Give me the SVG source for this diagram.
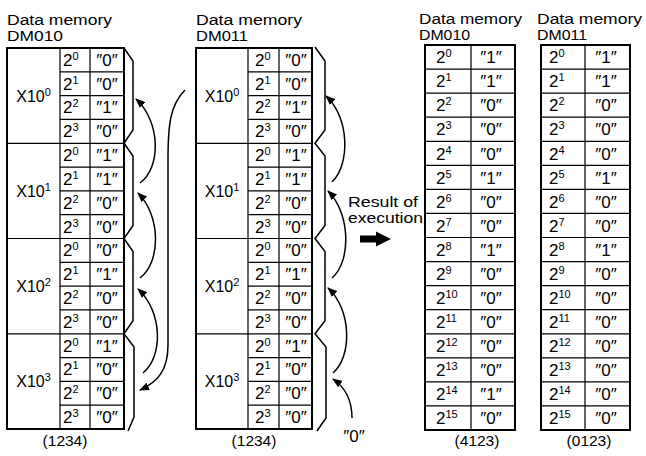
<svg xmlns="http://www.w3.org/2000/svg" width="646" height="456" viewBox="0 0 646 456">
<style>
text{font-family:"Liberation Sans",Arial,sans-serif;fill:#000}
.t{font-size:15.5px}
.x{font-size:16px;text-anchor:middle}
.b{font-size:17px}
.v{font-size:17px;text-anchor:middle}
.s{font-size:11px}
.lab{font-size:15.5px;text-anchor:middle}
.o{fill:none;stroke:#000;stroke-width:2}
.l{fill:none;stroke:#000;stroke-width:1.2}
.br{fill:none;stroke:#000;stroke-width:1.5;stroke-linejoin:miter}
.c{fill:none;stroke:#000;stroke-width:1.5}
</style>
<defs>
<marker id="ah" markerUnits="userSpaceOnUse" markerWidth="10" markerHeight="8" refX="9" refY="4" orient="auto">
<path d="M0,0 L10,4 L0,8 z" fill="#000"/>
</marker>
</defs>

<g id="dm010-before">
<text class="t" x="7" y="25" textLength="105" lengthAdjust="spacingAndGlyphs">Data memory</text>
<text class="t" x="7" y="40.5" textLength="56" lengthAdjust="spacingAndGlyphs">DM010</text>
<rect class="o" x="7" y="48" width="117" height="381"/>
<path class="l" d="M60,48V429M90,48V429M7,143.3H124M7,238.5H124M7,333.8H124M60,71.8H124M60,95.6H124M60,119.4H124M60,167.1H124M60,190.9H124M60,214.7H124M60,262.3H124M60,286.1H124M60,309.9H124M60,357.6H124M60,381.4H124M60,405.2H124"/>
<text class="x" x="33.5" y="101.5">X10<tspan class="s" dy="-6">0</tspan></text>
<text class="x" x="33.5" y="196.8">X10<tspan class="s" dy="-6">1</tspan></text>
<text class="x" x="33.5" y="292">X10<tspan class="s" dy="-6">2</tspan></text>
<text class="x" x="33.5" y="387.3">X10<tspan class="s" dy="-6">3</tspan></text>
<text class="b" x="63" y="65.8">2<tspan class="s" dy="-6">0</tspan></text>
<text class="b" x="63" y="89.6">2<tspan class="s" dy="-6">1</tspan></text>
<text class="b" x="63" y="113.4">2<tspan class="s" dy="-6">2</tspan></text>
<text class="b" x="63" y="137.2">2<tspan class="s" dy="-6">3</tspan></text>
<text class="b" x="63" y="161.1">2<tspan class="s" dy="-6">0</tspan></text>
<text class="b" x="63" y="184.9">2<tspan class="s" dy="-6">1</tspan></text>
<text class="b" x="63" y="208.7">2<tspan class="s" dy="-6">2</tspan></text>
<text class="b" x="63" y="232.5">2<tspan class="s" dy="-6">3</tspan></text>
<text class="b" x="63" y="256.3">2<tspan class="s" dy="-6">0</tspan></text>
<text class="b" x="63" y="280.1">2<tspan class="s" dy="-6">1</tspan></text>
<text class="b" x="63" y="303.9">2<tspan class="s" dy="-6">2</tspan></text>
<text class="b" x="63" y="327.7">2<tspan class="s" dy="-6">3</tspan></text>
<text class="b" x="63" y="351.6">2<tspan class="s" dy="-6">0</tspan></text>
<text class="b" x="63" y="375.4">2<tspan class="s" dy="-6">1</tspan></text>
<text class="b" x="63" y="399.2">2<tspan class="s" dy="-6">2</tspan></text>
<text class="b" x="63" y="423">2<tspan class="s" dy="-6">3</tspan></text>
<text class="v" x="107" y="65.8">″0″</text>
<text class="v" x="107" y="89.6">″0″</text>
<text class="v" x="107" y="113.4">″1″</text>
<text class="v" x="107" y="137.2">″0″</text>
<text class="v" x="107" y="161.1">″1″</text>
<text class="v" x="107" y="184.9">″1″</text>
<text class="v" x="107" y="208.7">″0″</text>
<text class="v" x="107" y="232.5">″0″</text>
<text class="v" x="107" y="256.3">″0″</text>
<text class="v" x="107" y="280.1">″1″</text>
<text class="v" x="107" y="303.9">″0″</text>
<text class="v" x="107" y="327.7">″0″</text>
<text class="v" x="107" y="351.6">″1″</text>
<text class="v" x="107" y="375.4">″0″</text>
<text class="v" x="107" y="399.2">″0″</text>
<text class="v" x="107" y="423">″0″</text>
<path class="br" d="M124,48 L133,61 L133,130 L124,143.3 L133,156 L133,225.5 L124,238.5 L133,251.5 L133,320.8 L124,333.8 L134,347 L134,417 L128,431"/>
<text class="lab" x="65" y="446">(1234)</text>
</g>

<g id="dm011-before">
<text class="t" x="196" y="25" textLength="106" lengthAdjust="spacingAndGlyphs">Data memory</text>
<text class="t" x="196" y="40.5" textLength="52" lengthAdjust="spacingAndGlyphs">DM011</text>
<rect class="o" x="196" y="48" width="116" height="381"/>
<path class="l" d="M248,48V429M279,48V429M196,143.3H312M196,238.5H312M196,333.8H312M248,71.8H312M248,95.6H312M248,119.4H312M248,167.1H312M248,190.9H312M248,214.7H312M248,262.3H312M248,286.1H312M248,309.9H312M248,357.6H312M248,381.4H312M248,405.2H312"/>
<text class="x" x="222" y="101.5">X10<tspan class="s" dy="-6">0</tspan></text>
<text class="x" x="222" y="196.8">X10<tspan class="s" dy="-6">1</tspan></text>
<text class="x" x="222" y="292">X10<tspan class="s" dy="-6">2</tspan></text>
<text class="x" x="222" y="387.3">X10<tspan class="s" dy="-6">3</tspan></text>
<text class="b" x="255" y="65.8">2<tspan class="s" dy="-6">0</tspan></text>
<text class="b" x="255" y="89.6">2<tspan class="s" dy="-6">1</tspan></text>
<text class="b" x="255" y="113.4">2<tspan class="s" dy="-6">2</tspan></text>
<text class="b" x="255" y="137.2">2<tspan class="s" dy="-6">3</tspan></text>
<text class="b" x="255" y="161.1">2<tspan class="s" dy="-6">0</tspan></text>
<text class="b" x="255" y="184.9">2<tspan class="s" dy="-6">1</tspan></text>
<text class="b" x="255" y="208.7">2<tspan class="s" dy="-6">2</tspan></text>
<text class="b" x="255" y="232.5">2<tspan class="s" dy="-6">3</tspan></text>
<text class="b" x="255" y="256.3">2<tspan class="s" dy="-6">0</tspan></text>
<text class="b" x="255" y="280.1">2<tspan class="s" dy="-6">1</tspan></text>
<text class="b" x="255" y="303.9">2<tspan class="s" dy="-6">2</tspan></text>
<text class="b" x="255" y="327.7">2<tspan class="s" dy="-6">3</tspan></text>
<text class="b" x="255" y="351.6">2<tspan class="s" dy="-6">0</tspan></text>
<text class="b" x="255" y="375.4">2<tspan class="s" dy="-6">1</tspan></text>
<text class="b" x="255" y="399.2">2<tspan class="s" dy="-6">2</tspan></text>
<text class="b" x="255" y="423">2<tspan class="s" dy="-6">3</tspan></text>
<text class="v" x="296" y="65.8">″0″</text>
<text class="v" x="296" y="89.6">″0″</text>
<text class="v" x="296" y="113.4">″1″</text>
<text class="v" x="296" y="137.2">″0″</text>
<text class="v" x="296" y="161.1">″1″</text>
<text class="v" x="296" y="184.9">″1″</text>
<text class="v" x="296" y="208.7">″0″</text>
<text class="v" x="296" y="232.5">″0″</text>
<text class="v" x="296" y="256.3">″0″</text>
<text class="v" x="296" y="280.1">″1″</text>
<text class="v" x="296" y="303.9">″0″</text>
<text class="v" x="296" y="327.7">″0″</text>
<text class="v" x="296" y="351.6">″1″</text>
<text class="v" x="296" y="375.4">″0″</text>
<text class="v" x="296" y="399.2">″0″</text>
<text class="v" x="296" y="423">″0″</text>
<path class="br" d="M315,47 L325,61 L325,130 L315,143.3 L325,156 L325,225.5 L315,238.5 L325,251.5 L325,320.8 L315,333.8 L326,347 L326,418 L317,431"/>
<text class="lab" x="254" y="446">(1234)</text>
</g>

<g id="result-label">
<text class="t" x="348" y="207" textLength="70" lengthAdjust="spacingAndGlyphs">Result of</text>
<text class="t" x="348" y="223" textLength="75" lengthAdjust="spacingAndGlyphs">execution</text>
<path d="M360,235.5 L376,235.5 L376,231.5 L391,239 L376,246.5 L376,242.5 L360,242.5 z" fill="#000"/>
</g>

<g id="zero-input">
<text class="v" x="354" y="442">″0″</text>
</g>

<g id="dm010-after">
<text class="t" x="419" y="24" textLength="103" lengthAdjust="spacingAndGlyphs">Data memory</text>
<text class="t" x="419" y="39.5" textLength="51" lengthAdjust="spacingAndGlyphs">DM010</text>
<rect class="o" x="425" y="45" width="90" height="385"/>
<path class="l" d="M471,45V430M425,69.1H515M425,93.1H515M425,117.2H515M425,141.3H515M425,165.3H515M425,189.4H515M425,213.4H515M425,237.5H515M425,261.6H515M425,285.6H515M425,309.7H515M425,333.8H515M425,357.8H515M425,381.9H515M425,405.9H515"/>
<text class="b" x="436" y="63.2">2<tspan class="s" dy="-6">0</tspan></text>
<text class="b" x="436" y="87.3">2<tspan class="s" dy="-6">1</tspan></text>
<text class="b" x="436" y="111.3">2<tspan class="s" dy="-6">2</tspan></text>
<text class="b" x="436" y="135.4">2<tspan class="s" dy="-6">3</tspan></text>
<text class="b" x="436" y="159.5">2<tspan class="s" dy="-6">4</tspan></text>
<text class="b" x="436" y="183.5">2<tspan class="s" dy="-6">5</tspan></text>
<text class="b" x="436" y="207.6">2<tspan class="s" dy="-6">6</tspan></text>
<text class="b" x="436" y="231.6">2<tspan class="s" dy="-6">7</tspan></text>
<text class="b" x="436" y="255.7">2<tspan class="s" dy="-6">8</tspan></text>
<text class="b" x="436" y="279.8">2<tspan class="s" dy="-6">9</tspan></text>
<text class="b" x="436" y="303.8">2<tspan class="s" dy="-6">10</tspan></text>
<text class="b" x="436" y="327.9">2<tspan class="s" dy="-6">11</tspan></text>
<text class="b" x="436" y="352">2<tspan class="s" dy="-6">12</tspan></text>
<text class="b" x="436" y="376">2<tspan class="s" dy="-6">13</tspan></text>
<text class="b" x="436" y="400.1">2<tspan class="s" dy="-6">14</tspan></text>
<text class="b" x="436" y="424.1">2<tspan class="s" dy="-6">15</tspan></text>
<text class="v" x="491" y="63.2">″1″</text>
<text class="v" x="491" y="87.3">″1″</text>
<text class="v" x="491" y="111.3">″0″</text>
<text class="v" x="491" y="135.4">″0″</text>
<text class="v" x="491" y="159.5">″0″</text>
<text class="v" x="491" y="183.5">″1″</text>
<text class="v" x="491" y="207.6">″0″</text>
<text class="v" x="491" y="231.6">″0″</text>
<text class="v" x="491" y="255.7">″1″</text>
<text class="v" x="491" y="279.8">″0″</text>
<text class="v" x="491" y="303.8">″0″</text>
<text class="v" x="491" y="327.9">″0″</text>
<text class="v" x="491" y="352">″0″</text>
<text class="v" x="491" y="376">″0″</text>
<text class="v" x="491" y="400.1">″1″</text>
<text class="v" x="491" y="424.1">″0″</text>
<text class="lab" x="477" y="446">(4123)</text>
</g>

<g id="dm011-after">
<text class="t" x="537" y="24" textLength="105" lengthAdjust="spacingAndGlyphs">Data memory</text>
<text class="t" x="537" y="39.5" textLength="50" lengthAdjust="spacingAndGlyphs">DM011</text>
<rect class="o" x="541" y="45" width="89" height="385"/>
<path class="l" d="M585,45V430M541,69.1H630M541,93.1H630M541,117.2H630M541,141.3H630M541,165.3H630M541,189.4H630M541,213.4H630M541,237.5H630M541,261.6H630M541,285.6H630M541,309.7H630M541,333.8H630M541,357.8H630M541,381.9H630M541,405.9H630"/>
<text class="b" x="549" y="63.2">2<tspan class="s" dy="-6">0</tspan></text>
<text class="b" x="549" y="87.3">2<tspan class="s" dy="-6">1</tspan></text>
<text class="b" x="549" y="111.3">2<tspan class="s" dy="-6">2</tspan></text>
<text class="b" x="549" y="135.4">2<tspan class="s" dy="-6">3</tspan></text>
<text class="b" x="549" y="159.5">2<tspan class="s" dy="-6">4</tspan></text>
<text class="b" x="549" y="183.5">2<tspan class="s" dy="-6">5</tspan></text>
<text class="b" x="549" y="207.6">2<tspan class="s" dy="-6">6</tspan></text>
<text class="b" x="549" y="231.6">2<tspan class="s" dy="-6">7</tspan></text>
<text class="b" x="549" y="255.7">2<tspan class="s" dy="-6">8</tspan></text>
<text class="b" x="549" y="279.8">2<tspan class="s" dy="-6">9</tspan></text>
<text class="b" x="549" y="303.8">2<tspan class="s" dy="-6">10</tspan></text>
<text class="b" x="549" y="327.9">2<tspan class="s" dy="-6">11</tspan></text>
<text class="b" x="549" y="352">2<tspan class="s" dy="-6">12</tspan></text>
<text class="b" x="549" y="376">2<tspan class="s" dy="-6">13</tspan></text>
<text class="b" x="549" y="400.1">2<tspan class="s" dy="-6">14</tspan></text>
<text class="b" x="549" y="424.1">2<tspan class="s" dy="-6">15</tspan></text>
<text class="v" x="606" y="63.2">″1″</text>
<text class="v" x="606" y="87.3">″1″</text>
<text class="v" x="606" y="111.3">″0″</text>
<text class="v" x="606" y="135.4">″0″</text>
<text class="v" x="606" y="159.5">″0″</text>
<text class="v" x="606" y="183.5">″1″</text>
<text class="v" x="606" y="207.6">″0″</text>
<text class="v" x="606" y="231.6">″0″</text>
<text class="v" x="606" y="255.7">″1″</text>
<text class="v" x="606" y="279.8">″0″</text>
<text class="v" x="606" y="303.8">″0″</text>
<text class="v" x="606" y="327.9">″0″</text>
<text class="v" x="606" y="352">″0″</text>
<text class="v" x="606" y="376">″0″</text>
<text class="v" x="606" y="400.1">″0″</text>
<text class="v" x="606" y="424.1">″0″</text>
<text class="lab" x="589" y="446">(0123)</text>
</g>

<g id="connectors">
<path class="c" marker-end="url(#ah)" d="M140,183 C161,168 161,122 136,99"/>
<path class="c" marker-end="url(#ah)" d="M140,278 C161,262 161,216 138,193"/>
<path class="c" marker-end="url(#ah)" d="M143,373 C163,357 163,312 138,289"/>
<path class="c" marker-end="url(#ah)" d="M185,90 C170,105 168,125 168,160 L168,345 C168,370 158,382 140,390"/>
<path class="c" marker-end="url(#ah)" d="M332,182 C350,165 350,118 326,96"/>
<path class="c" marker-end="url(#ah)" d="M332,278 C351,262 351,214 328,191"/>
<path class="c" marker-end="url(#ah)" d="M333,373 C352,357 352,310 328,288"/>
<path class="c" marker-end="url(#ah)" d="M352,418 C352,400 346,388 333,379"/>
</g>
</svg>
